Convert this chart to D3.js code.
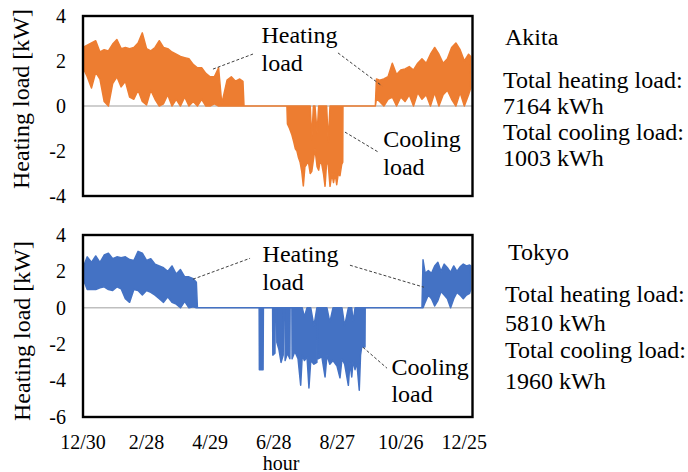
<!DOCTYPE html>
<html><head><meta charset="utf-8">
<script src="https://cdn.jsdelivr.net/npm/d3@7"></script>
<style>
body{margin:0;background:#fff}
svg{display:block}
text{font-family:"Liberation Serif","Times New Roman",serif;fill:#000}
</style>
</head><body>
<svg id="c" width="688" height="472"></svg>
<script>
// ---------- data ----------
const tickDays   = [0, 60, 120, 180, 240, 300, 360];
const tickLabels = ["12/30", "2/28", "4/29", "6/28", "8/27", "10/26", "12/25"];
const akitaTicks = [4, 2, 0, -2, -4];
const tokyoTicks = [4, 2, 0, -2, -4, -6];

// Akita: day of year, highest and lowest hourly load around that day [kW]
const akitaDays = [0,4,8,12,16,20,24,28,32,36, 40,44,48,52,56,60,64,68,72,76,
  80,84,88,92,96,100,104,108,112,116, 120,124,128,131,136,140,144,148,151,152,
  192.5,193,195,197,199,200.5,202,203.5,205,206.5,
  208,209.5,211,212.7,214.5,216,217.5,219,221,222.5,
  224,225.5,227,228.5,230,231.5,233.2,235,236.5,238,
  239.5,241,242.6,244.2,245.2,245.4,
  276,277,280, 284,288,292,296,300,304,308,312,316,320,
  324,328,332,336,340,344,348,352,356,360, 364,366];
const akitaMax = [2.6,2.7,2.8,2.9,2.4,2.5,2.45,2.75,2.95,2.55,
  2.6,2.55,2.6,2.8,3.25,2.55,2.45,2.6,2.9,2.6,
  2.55,2.4,2.3,2.2,2.15,2.1,1.85,1.7,1.7,1.45,
  1.3,1.3,1.7,0.1,1.15,1.3,1.1,1.2,1.1,0,
  0,0,0,0,0,0,0,0,0,0,
  0,0,0,0,0,-1.5,0,0,-1.2,0,
  0,0,0,0,0,-1.6,0,0,0,0,
  0,0,0,0,0,0,
  0,1.2,1.15,
  1.2,1.3,1.9,1.4,1.6,1.65,1.75,1.6,1.9,2.1,
  1.9,2.3,2.6,2.3,1.9,2.1,2.6,2.8,2.5,2.0,
  2.3,2.2];
const akitaMin = [1.7,1.3,0.8,1.5,1.2,0.2,0,1.0,1.3,0.85,
  1.1,0.4,0.3,0.7,0.2,0.05,0.7,0.3,0,0.1,
  0.5,0,0.3,0,0.4,0,0.2,0,0.3,0,
  0,0.1,0,0,0,0,0,0,0,0,
  0,-0.8,-1.0,-1.25,-1.6,-1.9,-2.0,-2.3,-2.5,-2.9,
  -3.55,-2.7,-2.6,-2.45,-3.0,-2.9,-2.4,-1.9,-2.7,-2.85,
  -2.4,-2.6,-3.0,-3.57,-2.5,-2.6,-3.57,-3.0,-3.4,-3.0,
  -3.5,-3.0,-3.1,-2.6,-2.5,0,
  0,0.3,0.2,
  0,0.3,0.4,0,0.4,0.2,0.5,0,0.6,0.3,
  0.5,0,0.6,0,0.5,0.7,0.3,0,0.6,0,
  0.5,0.8];

// Tokyo
const tokyoDays = [0,4,8,12,16,20,24,28,32,36, 40,44,48,52,56,60,64,68,72,76,
  80,84,88,92,96,100,104,107,108,
  166.3,166.5,170,170.3, 179,179.2,181.2,181.5, 182.7,183,185,187,189,189.3,
  190.6,190.8,193,195.3,195.5, 197.2,197.4,200,203,205.5,207,209,211.5,213.3,215,218,220.8,221,
  221.7,221.9,225.5,228.5,230.3,233,236,239.8,242.6,244.5,247,250.5,252,253.7,255,256.8,258.5,
  260.8,262,263.1,266.2,266.4,
  320,321,323,326,329,332,335,
  338,341,344,347,350,353,356,359,362,365, 366];
const tokyoMax = [2.2,2.8,2.5,2.85,2.5,2.9,3.0,2.7,2.8,2.75,
  2.8,2.65,2.6,3.1,3.0,2.6,2.7,2.4,2.3,2.2,
  2.0,2.3,1.85,2.1,1.7,1.7,1.6,1.4,0,
  0,0,0,0, 0,0,0,0, 0,0,0,0,0,0,
  0,0,0,0,0, 0,0,0,0,0,0,-0.5,0,0,0,-1.0,0,0,
  0,0,0,0,0,-0.8,0,0,0,0,-1.0,0,0,0,-0.8,0,0,
  0,0,0,0,0,
  0,2.64,1.9,2.05,1.9,2.3,2.5,
  2.0,2.4,2.2,1.95,2.3,2.0,2.25,2.4,2.3,2.35, 2.3];
const tokyoMin = [1.6,1.0,1.0,1.0,1.1,1.15,1.0,0.95,1.15,1.05,
  0.5,0.3,1.0,0.95,0.7,0.95,0.85,0.7,0.5,0.3,
  0.6,0.3,0.2,0,0.35,0,0.05,0,0,
  0,-3.4,-3.4,0, 0,-2.6,-2.5,0, 0,-1.9,-2.3,-3.0,-2.6,0,
  0,-2.9,-2.5,-2.8,0, 0,-2.8,-2.4,-2.8,-4.25,-2.6,-2.9,-2.7,-4.4,-2.9,-3.1,-3.0,0,
  0,-2.8,-2.7,-3.8,-2.6,-3.1,-2.9,-3.2,-3.85,-2.8,-3.1,-4.26,-3.0,-3.8,-2.9,-3.4,-3.0,
  -4.53,-2.6,-2.15,-2.15,0,
  0,0,0.3,0.7,0.5,0.1,0.4,
  0.9,0.7,0.5,0,0.5,0.85,0.7,0.5,0.7,0.8, 1.0];

const akitaText = ["Akita", "Total heating load:", "7164 kWh", "Total cooling load:", "1003 kWh"];
const tokyoText = ["Tokyo", "Total heating load:", "5810 kWh", "Total cooling load:", "1960 kWh"];
const yTitle = "Heating load [kW]";
const xTitle = "hour";

// ---------- layout ----------
const svg = d3.select("#c");
const x = d3.scaleLinear().domain([0, 366]).range([83, 470.7]);
const boxRight = 472.5;

const panels = [
  { days: akitaDays, max: akitaMax, min: akitaMin, ticks: akitaTicks, domain: [-4, 4],
    top: 16, bottom: 196, color: "#ED7D31", text: akitaText,
    textPos: { x: 503, y: [45, 87.5, 113.5, 139.5, 166], x0: 505 },
    titleY: 99, titleX: 29,
    leaders: [[[122.7, 1.64], [160.5, 2.31]], [[240.7, 2.36], [282.3, 0.89]], [[247.3, -1.16], [278.5, -2.04]]],
    notes: [{ d: 168.5, v: [2.8, 1.56], t: ["Heating", "load"] }, { d: 283.5, v: [-1.82, -3.07], t: ["Cooling", "load"] }] },
  { days: tokyoDays, max: tokyoMax, min: tokyoMin, ticks: tokyoTicks, domain: [-6, 4],
    top: 235, bottom: 417, color: "#4472C4", text: tokyoText,
    textPos: { x: 505, y: [260, 302, 330.5, 358, 389], x0: 508 },
    titleY: 331, titleX: 30,
    leaders: [[[103.8, 1.57], [157.7, 2.72]], [[252, 2.34], [321.9, 1.13]], [[264.3, -2.17], [287, -3.32]]],
    notes: [{ d: 169.5, v: [2.5, 0.96], t: ["Heating", "load"] }, { d: 291.2, v: [-3.71, -5.19], t: ["Cooling", "load"] }] }
];

panels.forEach(p => {
  const y = d3.scaleLinear().domain(p.domain).range([p.bottom, p.top]);
  const g = svg.append("g");
  const rows = p.days.map((d, i) => ({ day: d, max: p.max[i], min: p.min[i] }));

  // zero gridline
  g.append("line").attr("x1", x.range()[0]).attr("x2", boxRight)
    .attr("y1", y(0)).attr("y2", y(0))
    .attr("stroke", "#BFBFBF").attr("stroke-width", 1.6);

  // load trace (band between hourly max and min)
  const area = d3.area().x(d => x(d.day)).y0(d => y(d.min)).y1(d => y(d.max));
  g.append("path").datum(rows).attr("d", area)
    .attr("fill", p.color).attr("stroke", p.color)
    .attr("stroke-width", 1.5).attr("stroke-linejoin", "round");

  // frame
  g.append("rect").attr("x", x.range()[0]).attr("y", p.top)
    .attr("width", boxRight - x.range()[0]).attr("height", p.bottom - p.top)
    .attr("fill", "none").attr("stroke", "#000").attr("stroke-width", 2.4);

  // y ticks
  g.selectAll(".yt").data(p.ticks).join("text")
    .attr("x", 66).attr("y", d => y(d)).attr("dy", "0.34em")
    .attr("text-anchor", "end").attr("font-size", 20).text(d => d);

  // y title
  g.append("text").attr("transform", `translate(${p.titleX},${p.titleY}) rotate(-90)`)
    .attr("text-anchor", "middle").attr("font-size", 24).text(yTitle);

  // leaders
  p.leaders.forEach(l => {
    g.append("line").attr("x1", x(l[0][0])).attr("y1", y(l[0][1]))
      .attr("x2", x(l[1][0])).attr("y2", y(l[1][1]))
      .attr("stroke", "#404040").attr("stroke-width", 1).attr("stroke-dasharray", "3,2");
  });
  // annotation text
  p.notes.forEach(n => {
    n.t.forEach((s, i) => {
      g.append("text").attr("x", x(n.d)).attr("y", y(n.v[i]))
        .attr("font-size", 24).text(s);
    });
  });

  // right-side summary
  p.text.forEach((s, i) => {
    g.append("text").attr("x", i === 0 ? p.textPos.x0 : p.textPos.x).attr("y", p.textPos.y[i])
      .attr("font-size", 24).text(s);
  });
});

// x axis labels (bottom panel)
svg.selectAll(".xt").data(tickDays).join("text")
  .attr("x", d => x(d)).attr("y", 449).attr("text-anchor", "middle")
  .attr("font-size", 20).text((d, i) => tickLabels[i]);
svg.append("text").attr("x", 281).attr("y", 469.5).attr("text-anchor", "middle")
  .attr("font-size", 20).text(xTitle);
</script>
</body></html>
